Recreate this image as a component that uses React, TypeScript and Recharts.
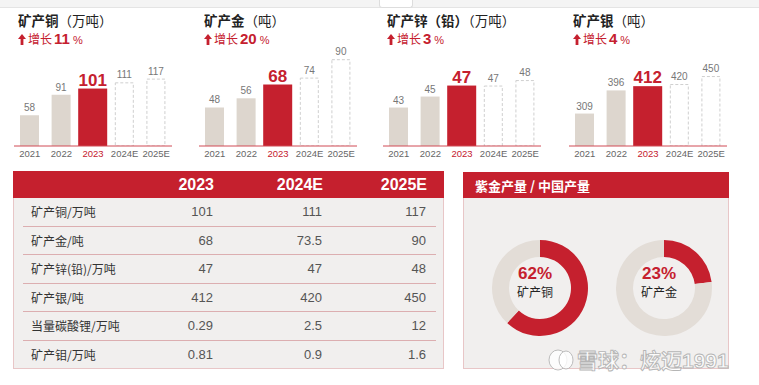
import React from 'react';
import { BarChart, Bar, XAxis, YAxis, LabelList, PieChart, Pie, Cell } from 'recharts';

const RED = '#c5202e';
const BEIGE = '#ddd6ce';
const DONUT_GRAY = '#e3ddd7';
const FONT = "'Liberation Sans', 'Noto Sans CJK SC', sans-serif";
const CJK = "'Noto Sans CJK SC', sans-serif";

// top bar charts
const years = ['2021', '2022', '2023', '2024E', '2025E'];
const copper = [58, 91, 101, 111, 117];
const gold = [48, 56, 68, 74, 90];
const zinc = [43, 45, 47, 47, 48];
const silver = [309, 396, 412, 420, 450];

const panelTitles = ['矿产铜', '矿产金', '矿产锌（铅）', '矿产银'];
const panelUnits = ['（万吨）', '（吨）', '（万吨）', '（吨）'];
const growth = [11, 20, 3, 4];

// table
const tableCols = ['2023', '2024E', '2025E'];
const tableRows = ['矿产铜/万吨', '矿产金/吨', '矿产锌(铅)/万吨', '矿产银/吨', '当量碳酸锂/万吨', '矿产钼/万吨'];
const values2023 = ['101', '68', '47', '412', '0.29', '0.81'];
const values2024 = ['111', '73.5', '47', '420', '2.5', '0.9'];
const values2025 = ['117', '90', '48', '450', '12', '1.6'];

// share of China's output
const shareNames = ['矿产铜', '矿产金'];
const shareValues = [62, 23];

const panels = [
  { series: copper, domain: [8.5, 169.5], left: 14, titleLeft: 18 },
  { series: gold, domain: [14.5, 101.5], left: 199, titleLeft: 204 },
  { series: zinc, domain: [36, 54.2], left: 383, titleLeft: 387 },
  { series: silver, domain: [187, 563], left: 569, titleLeft: 573 },
];

const BarShape = (props: any) => {
  const { x, y, width, height, index } = props;
  if (index === 2) return <rect x={x - 5} y={y} width={width + 10} height={height} fill={RED} />;
  if (index > 2)
    return (
      <rect x={x + 0.5} y={y + 0.5} width={width - 1} height={height - 0.5} fill="#fff" stroke="#cfcfcf" strokeDasharray="3 2" />
    );
  return <rect x={x} y={y} width={width} height={height} fill={BEIGE} />;
};

const ValueLabel = (props: any) => {
  const { x, y, width, value, index } = props;
  const hi = index === 2;
  return (
    <text
      x={x + width / 2}
      y={y - (hi ? 3 : 4)}
      textAnchor="middle"
      fontFamily={FONT}
      fontSize={hi ? 17 : 10}
      fontWeight={hi ? 700 : 400}
      fill={hi ? RED : '#777'}
    >
      {value}
    </text>
  );
};

const YearTick = (props: any) => {
  const { x, y, payload } = props;
  const hi = payload.value === '2023';
  return (
    <text x={x} y={y + 11} textAnchor="middle" fontSize={9.5} fill={hi ? RED : '#666'} fontFamily={FONT}>
      {payload.value}
    </text>
  );
};

const Arrow = () => (
  <svg width={8} height={11} style={{ marginRight: 2, verticalAlign: -1 }}>
    <polygon points="4,0 8,5 0,5" fill={RED} />
    <rect x={2.6} y={4} width={2.8} height={7} fill={RED} />
  </svg>
);

function MiniChart({ i }: { i: number }) {
  const p = panels[i];
  const data = years.map((year, k) => ({ year, value: p.series[k] }));
  return (
    <>
      <div style={{ position: 'absolute', left: p.titleLeft, top: 11, lineHeight: '18px', fontFamily: CJK, fontSize: 13.5, color: '#222', whiteSpace: 'nowrap' }}>
        <span style={{ fontWeight: 700 }}>{panelTitles[i]}</span>
        <span>{panelUnits[i]}</span>
      </div>
      <div style={{ position: 'absolute', left: p.titleLeft, top: 30, lineHeight: '18px', color: RED, whiteSpace: 'nowrap' }}>
        <Arrow />
        <span style={{ fontFamily: CJK, fontSize: 12 }}>增长</span>
        <span style={{ fontFamily: FONT, fontSize: 15, fontWeight: 700, marginLeft: 2 }}>{growth[i]}</span>
        <span style={{ fontFamily: FONT, fontSize: 11, marginLeft: 3 }}>%</span>
      </div>
      <div style={{ position: 'absolute', left: p.left, top: 46 }}>
        <BarChart width={158} height={114} data={data} margin={{ top: 0, right: 0, bottom: 0, left: 0 }}>
          <XAxis
            dataKey="year"
            interval={0}
            height={14}
            tickSize={0}
            tickMargin={0}
            tickLine={false}
            axisLine={{ stroke: '#d04a55', strokeWidth: 1 }}
            tick={<YearTick />}
          />
          <YAxis hide domain={p.domain as [number, number]} allowDataOverflow />
          <Bar dataKey="value" barSize={19} shape={<BarShape />} isAnimationActive={false}>
            <LabelList dataKey="value" content={<ValueLabel />} />
          </Bar>
        </BarChart>
      </div>
    </>
  );
}

function DataTable() {
  const colRight = [201, 310, 414];
  const cols = [values2023, values2024, values2025];
  const rowH = 28.5;
  return (
    <div style={{ position: 'absolute', left: 13, top: 171, width: 431, height: 198 }}>
      <div style={{ position: 'absolute', left: 0, top: 0, width: 431, height: 27, background: RED }}>
        {tableCols.map((c, k) => (
          <div key={c} style={{ position: 'absolute', right: 431 - colRight[k], top: 0, lineHeight: '28px', color: '#fff', fontFamily: FONT, fontSize: 16, fontWeight: 700 }}>
            {c}
          </div>
        ))}
      </div>
      <div style={{ position: 'absolute', left: 0, top: 27, width: 429, height: 170, background: '#f1efee', border: '1px solid #e8c6c7', borderTop: 'none' }}>
        {tableRows.map((r, j) => (
          <div key={r} style={{ position: 'absolute', left: 0, top: j * rowH, width: 429, height: rowH }}>
            <div style={{ position: 'absolute', left: 17, top: 0, lineHeight: rowH + 'px', fontFamily: CJK, fontSize: 12, color: '#333' }}>{r}</div>
            {cols.map((col, k) => (
              <div key={k} style={{ position: 'absolute', right: 431 - colRight[k], top: 0, lineHeight: rowH + 'px', fontFamily: FONT, fontSize: 13, color: '#555' }}>
                {col[j]}
              </div>
            ))}
            {j < tableRows.length - 1 && (
              <div style={{ position: 'absolute', left: 9, right: 7, bottom: 0, height: 1, background: '#dcaeb0' }} />
            )}
          </div>
        ))}
      </div>
    </div>
  );
}

function SharePanel() {
  const centers = [72, 196];
  return (
    <>
      <div style={{ position: 'absolute', left: 463, top: 172, width: 266, height: 26, background: RED }}>
        <div style={{ position: 'absolute', left: 12, top: 0, lineHeight: '27px', color: '#fff', fontFamily: CJK, fontSize: 13, fontWeight: 700, whiteSpace: 'nowrap' }}>
          紫金产量 / 中国产量
        </div>
      </div>
      <div style={{ position: 'absolute', left: 463, top: 198, width: 264, height: 170, background: '#f1efee', border: '1px solid #e8c6c7', borderTop: 'none' }} />
      <div style={{ position: 'absolute', left: 463, top: 198 }}>
        <PieChart width={266} height={171}>
          {shareValues.map((v, k) => (
            <Pie
              key={k}
              data={[
                { name: shareNames[k], value: v },
                { name: '其他', value: 100 - v },
              ]}
              dataKey="value"
              cx={centers[k]}
              cy={85}
              innerRadius={31}
              outerRadius={48}
              startAngle={90}
              endAngle={-270}
              stroke="none"
              isAnimationActive={false}
            >
              <Cell fill={RED} />
              <Cell fill={DONUT_GRAY} />
            </Pie>
          ))}
        </PieChart>
      </div>
      {shareValues.map((v, k) => (
        <React.Fragment key={k}>
          <div style={{ position: 'absolute', left: 463 + centers[k] - 40, top: 264, width: 80, textAlign: 'center', lineHeight: '20px', color: RED, fontFamily: FONT, fontSize: 17, fontWeight: 700 }}>
            {v}%
          </div>
          <div style={{ position: 'absolute', left: 463 + centers[k] - 40, top: 284, width: 80, textAlign: 'center', lineHeight: '16px', color: '#222', fontFamily: CJK, fontSize: 12 }}>
            {shareNames[k]}
          </div>
        </React.Fragment>
      ))}
    </>
  );
}

export default function App() {
  return (
    <div style={{ position: 'absolute', left: 0, top: 0, width: 759, height: 385, background: '#fff', overflow: 'hidden' }}>
      <div style={{ position: 'absolute', left: 0, top: 0, width: 759, height: 7, background: '#f4f4f4', borderBottom: '1px solid #e4e4e4' }} />
      <div style={{ position: 'absolute', left: 379, top: 0, width: 32, height: 7, background: '#fff', border: '1px solid #ddd', borderTop: 'none', borderRadius: '0 0 3px 3px' }} />
      {panels.map((_, i) => (
        <MiniChart key={i} i={i} />
      ))}
      <DataTable />
      <SharePanel />
      <svg width={759} height={385} style={{ position: 'absolute', left: 0, top: 0, pointerEvents: 'none' }}>
        <g fill="rgba(255,255,255,0.8)" stroke="#b5b5b5" strokeWidth={0.9}>
          <ellipse cx={558} cy={360} rx={9} ry={10} />
          <ellipse cx={566} cy={360} rx={7} ry={9} />
        </g>
        <text x={577} y={368} fontFamily={FONT} fontSize={21} fontWeight={700} fill="rgba(255,255,255,0.8)" stroke="#b5b5b5" strokeWidth={0.9}>
          雪球：炫迈1991
        </text>
      </svg>
    </div>
  );
}
